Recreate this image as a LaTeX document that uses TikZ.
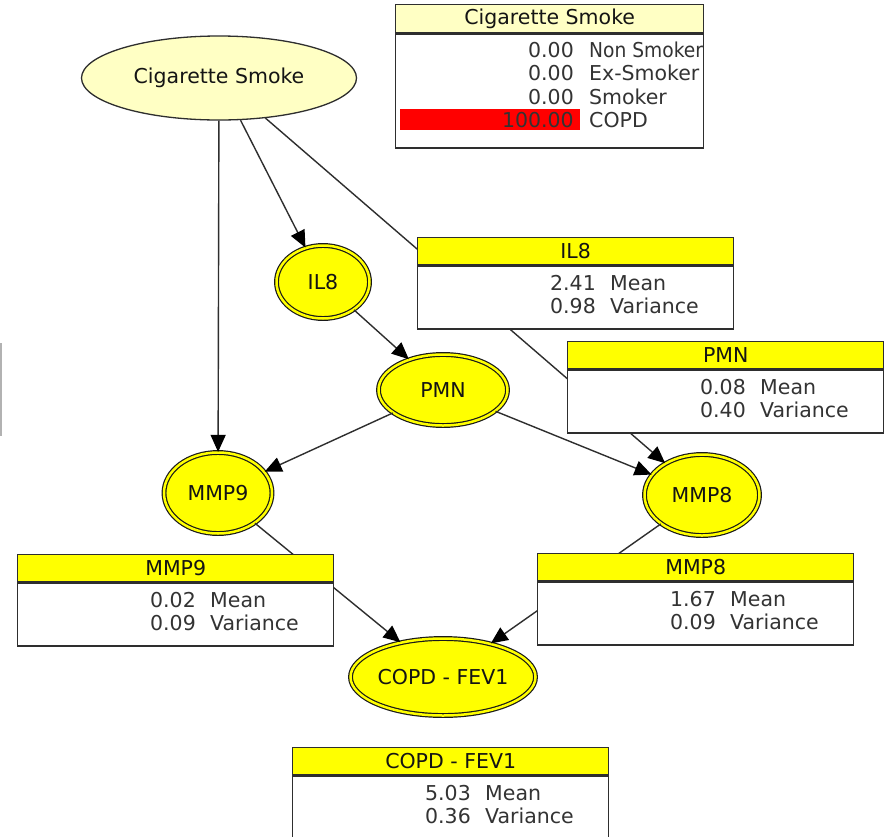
\documentclass[tikz,border=0pt]{standalone}
\usepackage{fontspec}
\setmainfont{DejaVu Sans}
\usetikzlibrary{shapes.geometric,arrows.meta}
\definecolor{edgec}{HTML}{2E2E2E}
\definecolor{paleY}{HTML}{FFFFC4}
\definecolor{yel}{HTML}{FFFF00}
\definecolor{txt}{HTML}{141414}
\definecolor{numc}{HTML}{333333}
\definecolor{barred}{HTML}{FF0000}
\newcommand{\statbox}[6]{%
  \node[hdrbox, fill=yel, anchor=north west] (#1h) at (#2,#3) {#4};
  \node[bodybox, anchor=north west] (#1b) at (#1h.south west) {};
  \node[numtxt] (#1mn) at ([shift={(179,53)}]#1h.north west) {#5};
  \node[labtxt] (#1ml) at ([shift={(193,53)}]#1h.north west) {Mean};
  \node[numtxt] (#1vn) at ([shift={(179,76)}]#1h.north west) {#6};
  \node[labtxt] (#1vl) at ([shift={(193,76)}]#1h.north west) {Variance};
}
\begin{document}
\begin{tikzpicture}[x=1pt,y=-1pt,
  every node/.style={font=\fontsize{20.5}{24}\selectfont, text=txt},
  csnode/.style={ellipse, draw=edgec, line width=1.3pt, fill=paleY,
    minimum width=275pt, minimum height=84pt, inner sep=0pt},
  varnode/.style={ellipse, draw=black!90, line width=1.2pt, double=yel,
    double distance=2.5pt, fill=yel, inner sep=0pt},
  arr/.style={draw=edgec, line width=1.4pt,
    -{Triangle[length=17pt,width=15pt,color=black]}},
  hdrbox/.style={rectangle, draw=edgec, line width=1.4pt, minimum width=316pt,
    minimum height=27pt, inner sep=0pt},
  bodybox/.style={rectangle, draw=edgec, line width=1.4pt, fill=white,
    minimum width=316pt, minimum height=63pt, inner sep=0pt},
  numtxt/.style={anchor=base east, inner sep=0pt, text=numc},
  labtxt/.style={anchor=base west, inner sep=0pt, text=numc}]
\clip (0,0) rectangle (886,836);
\fill[white] (0,0) rectangle (886,836);
% left edge artifact
\fill[black!30] (0,343) rectangle (1.5,436);

% variable nodes
\node[csnode] (cs) at (219,78) {Cigarette Smoke};
\node[varnode, minimum width=93pt, minimum height=73pt] (il8) at (323,282) {IL8};
\node[varnode, minimum width=129pt, minimum height=71pt] (pmn) at (443,390) {PMN};
\node[varnode, minimum width=108pt, minimum height=81pt] (mmp9) at (218,493) {MMP9};
\node[varnode, minimum width=115pt, minimum height=81pt] (mmp8) at (702,495) {MMP8};
\node[varnode, minimum width=185pt, minimum height=77pt] (copd) at (443,677) {COPD - FEV1};

% edges
\draw[arr] (cs) -- (mmp9);
\draw[arr] (cs) -- (il8);
\draw[arr] (cs) -- (mmp8);
\draw[arr] (il8) -- (pmn);
\draw[arr] (pmn) -- (mmp9);
\draw[arr] (pmn) -- (mmp8);
\draw[arr] (mmp9) -- (copd);
\draw[arr] (mmp8) -- (copd);

% Cigarette Smoke table
\node[hdrbox, fill=paleY, minimum width=308pt, minimum height=28pt, anchor=north west] (csh) at (395,4) {Cigarette Smoke};
\node[bodybox, minimum width=308pt, minimum height=114pt, anchor=north west] (csb) at (csh.south west) {};
\begin{scope}
\clip (395,32) rectangle (702,146);
\fill[barred] (400,109) rectangle (580,130);
\node[numtxt] (csn1) at (574,57) {0.00};
\node[labtxt] (csl1) at (589,57) {\scalebox{0.91}[1]{Non Smoker}};
\node[numtxt] (csn2) at (574,80.5) {0.00};
\node[labtxt] (csl2) at (589,80.5) {Ex-Smoker};
\node[numtxt] (csn3) at (574,104) {0.00};
\node[labtxt] (csl3) at (589,104) {Smoker};
\node[numtxt] (csn4) at (574,127.5) {100.00};
\node[labtxt] (csl4) at (589,127.5) {COPD};
\end{scope}

% statistic boxes
\statbox{il8s}{417}{237}{IL8}{2.41}{0.98}
\statbox{pmns}{567}{341}{PMN}{0.08}{0.40}
\statbox{mmp9s}{17}{554}{MMP9}{0.02}{0.09}
\statbox{mmp8s}{537}{553}{MMP8}{1.67}{0.09}
\statbox{copds}{292}{747}{COPD - FEV1}{5.03}{0.36}
\end{tikzpicture}
\end{document}
